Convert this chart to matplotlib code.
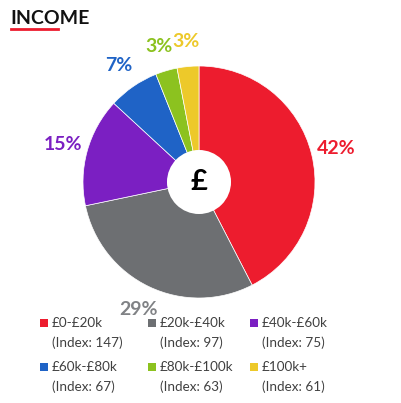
import matplotlib
matplotlib.use("Agg")
import matplotlib.pyplot as plt
from matplotlib.patches import Rectangle, Circle

categories = ["£0-£20k", "£20k-£40k", "£40k-£60k", "£60k-£80k", "£80k-£100k", "£100k+"]
shares = [42, 29, 15, 7, 3, 3]
index_values = [147, 97, 75, 67, 63, 61]
title = "INCOME"

colors = ["#ED1C2E", "#6D6F72", "#7B1FC2", "#1F63C6", "#8CC21F", "#EDC92A"]
label_colors = ["#ED1C2E", "#808285", "#7B1FC2", "#1F63C6", "#8CC21F", "#EDC92A"]

W, H = 401, 403
fig = plt.figure(figsize=(W / 100, H / 100), dpi=100)
fig.patch.set_facecolor("white")
FONT = "Lato"

def fx(px):
    return px / W

def fy(py):
    return 1 - py / H

# Pie axes: center (199,182) px, radius 116 px
cx, cy, r = 199, 182, 116
ax = fig.add_axes([fx(cx - 1.5 * r), fy(cy + 1.5 * r), 3 * r / W, 3 * r / H])
wedges, texts, autotexts = ax.pie(
    shares, colors=colors, startangle=90, counterclock=False,
    autopct=lambda p: f"{p:.0f}%", pctdistance=1.22,
    wedgeprops=dict(linewidth=0.5, edgecolor="white"),
)
for t, c in zip(autotexts, label_colors):
    t.set_color(c)
    t.set_fontsize(14)
    t.set_fontweight("bold")
    t.set_fontfamily(FONT)
ax.add_patch(Circle((0, 0), 0.276, facecolor="white", edgecolor="none", zorder=5))
ax.text(0, 0, "£", ha="center", va="center", fontsize=21, fontweight="bold",
        color="black", fontfamily=FONT, zorder=6)
ax.set_xlim(-1.5, 1.5)
ax.set_ylim(-1.5, 1.5)
ax.set_aspect("auto")
ax.axis("off")

# Title with red underline
fig.text(fx(10), fy(18), title, fontsize=14, fontweight="bold", color="#111111",
         fontfamily=FONT, ha="left", va="center")
fig.add_artist(plt.Line2D([fx(11), fx(58)], [fy(29), fy(29)], color="#ED1C2E",
                          linewidth=2, transform=fig.transFigure))

# Legend (manual, 3 columns x 2 rows)
col_x = [40, 148, 250]
row_y = [323, 367]
for i, (cat, idx) in enumerate(zip(categories, index_values)):
    x0 = col_x[i % 3]
    y0 = row_y[i // 3]
    fig.add_artist(Rectangle((fx(x0), fy(y0 + 4)), 8 / W, 8 / H, facecolor=colors[i],
                             edgecolor="none", transform=fig.transFigure))
    fig.text(fx(x0 + 12), fy(y0), cat, fontsize=9.7, color="#404040",
             fontfamily=FONT, ha="left", va="center")
    fig.text(fx(x0 + 12), fy(y0 + 20), f"(Index: {idx})", fontsize=9.7, color="#404040",
             fontfamily=FONT, ha="left", va="center")

fig.savefig("out.png", dpi=100, facecolor="white")
